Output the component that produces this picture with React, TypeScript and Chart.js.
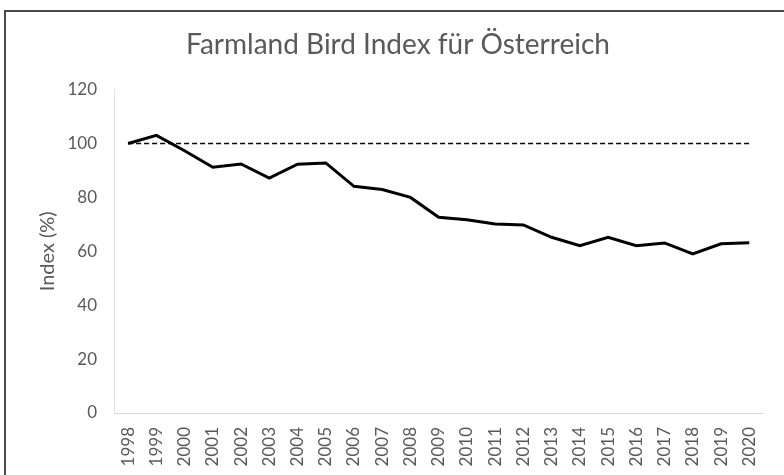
import React, { useEffect, useRef } from "react";
import { Chart, registerables } from "chart.js";

Chart.register(...registerables);

const years = ["1998","1999","2000","2001","2002","2003","2004","2005","2006","2007","2008","2009","2010","2011","2012","2013","2014","2015","2016","2017","2018","2019","2020"];
const indexValues = [100, 103, 97.3, 91.2, 92.4, 87.2, 92.3, 92.8, 84.1, 82.9, 80, 72.6, 71.7, 70.1, 69.8, 65.2, 62.1, 65.2, 62.1, 63.1, 59, 62.8, 63.2];
const baseline = years.map(() => 100);
const yTicks = [0, 20, 40, 60, 80, 100, 120];

const FONT = "Lato, 'Open Sans', sans-serif";
const TEXT = "#595959";

export default function App() {
  const ref = useRef<HTMLCanvasElement | null>(null);
  useEffect(() => {
    if (!ref.current) return;
    const chart = new Chart(ref.current, {
      type: "line",
      data: {
        labels: years,
        datasets: [
          {
            data: indexValues,
            borderColor: "#000000",
            borderWidth: 3,
            pointRadius: 0,
            tension: 0,
            fill: false,
          },
          {
            data: baseline,
            borderColor: "#000000",
            borderWidth: 1.5,
            borderDash: [5, 3],
            pointRadius: 0,
            tension: 0,
            fill: false,
          },
        ],
      },
      options: {
        animation: false,
        responsive: false,
        devicePixelRatio: 1,
        layout: { padding: { left: 28, right: 16, top: 0, bottom: 0 } },
        plugins: {
          legend: { display: false },
          tooltip: { enabled: false },
          title: {
            display: true,
            text: "Farmland Bird Index für Österreich",
            color: TEXT,
            font: { family: FONT, size: 28, weight: "normal" as any },
            padding: { top: 28, bottom: 28 },
          },
        },
        scales: {
          x: {
            offset: true,
            grid: { display: false, drawTicks: false },
            border: { display: true, color: "#d9d9d9", width: 1 },
            ticks: {
              color: TEXT,
              font: { family: FONT, size: 17 },
              maxRotation: 90,
              minRotation: 90,
              autoSkip: false,
              padding: 14,
            },
            afterFit: (s: any) => { s.height = 62; },
          },
          y: {
            min: 0,
            max: 120,
            afterBuildTicks: (s: any) => { s.ticks = yTicks.map((v) => ({ value: v })); },
            grid: { display: false, drawTicks: false },
            border: { display: true, color: "#e8e1d3", width: 1 },
            ticks: {
              color: TEXT,
              font: { family: FONT, size: 17 },
              padding: 17,
            },
            title: {
              display: true,
              text: "Index (%)",
              color: TEXT,
              font: { family: FONT, size: 20 },
              padding: { top: 8, bottom: 0 },
            },
            afterFit: (s: any) => { s.width = 86; },
          },
        },
      },
    });
    return () => chart.destroy();
  }, []);

  return (
    <div style={{ position: "absolute", left: 0, top: 0, width: 784, height: 475, overflow: "hidden", background: "#fff" }}>
      <div style={{ position: "absolute", left: 4, top: 10, width: 800, height: 500, border: "2px solid #4a4a4a", boxSizing: "border-box" }} />
      <canvas ref={ref} width={784} height={475} style={{ position: "absolute", left: 0, top: 0, width: 784, height: 475 }} />
    </div>
  );
}
